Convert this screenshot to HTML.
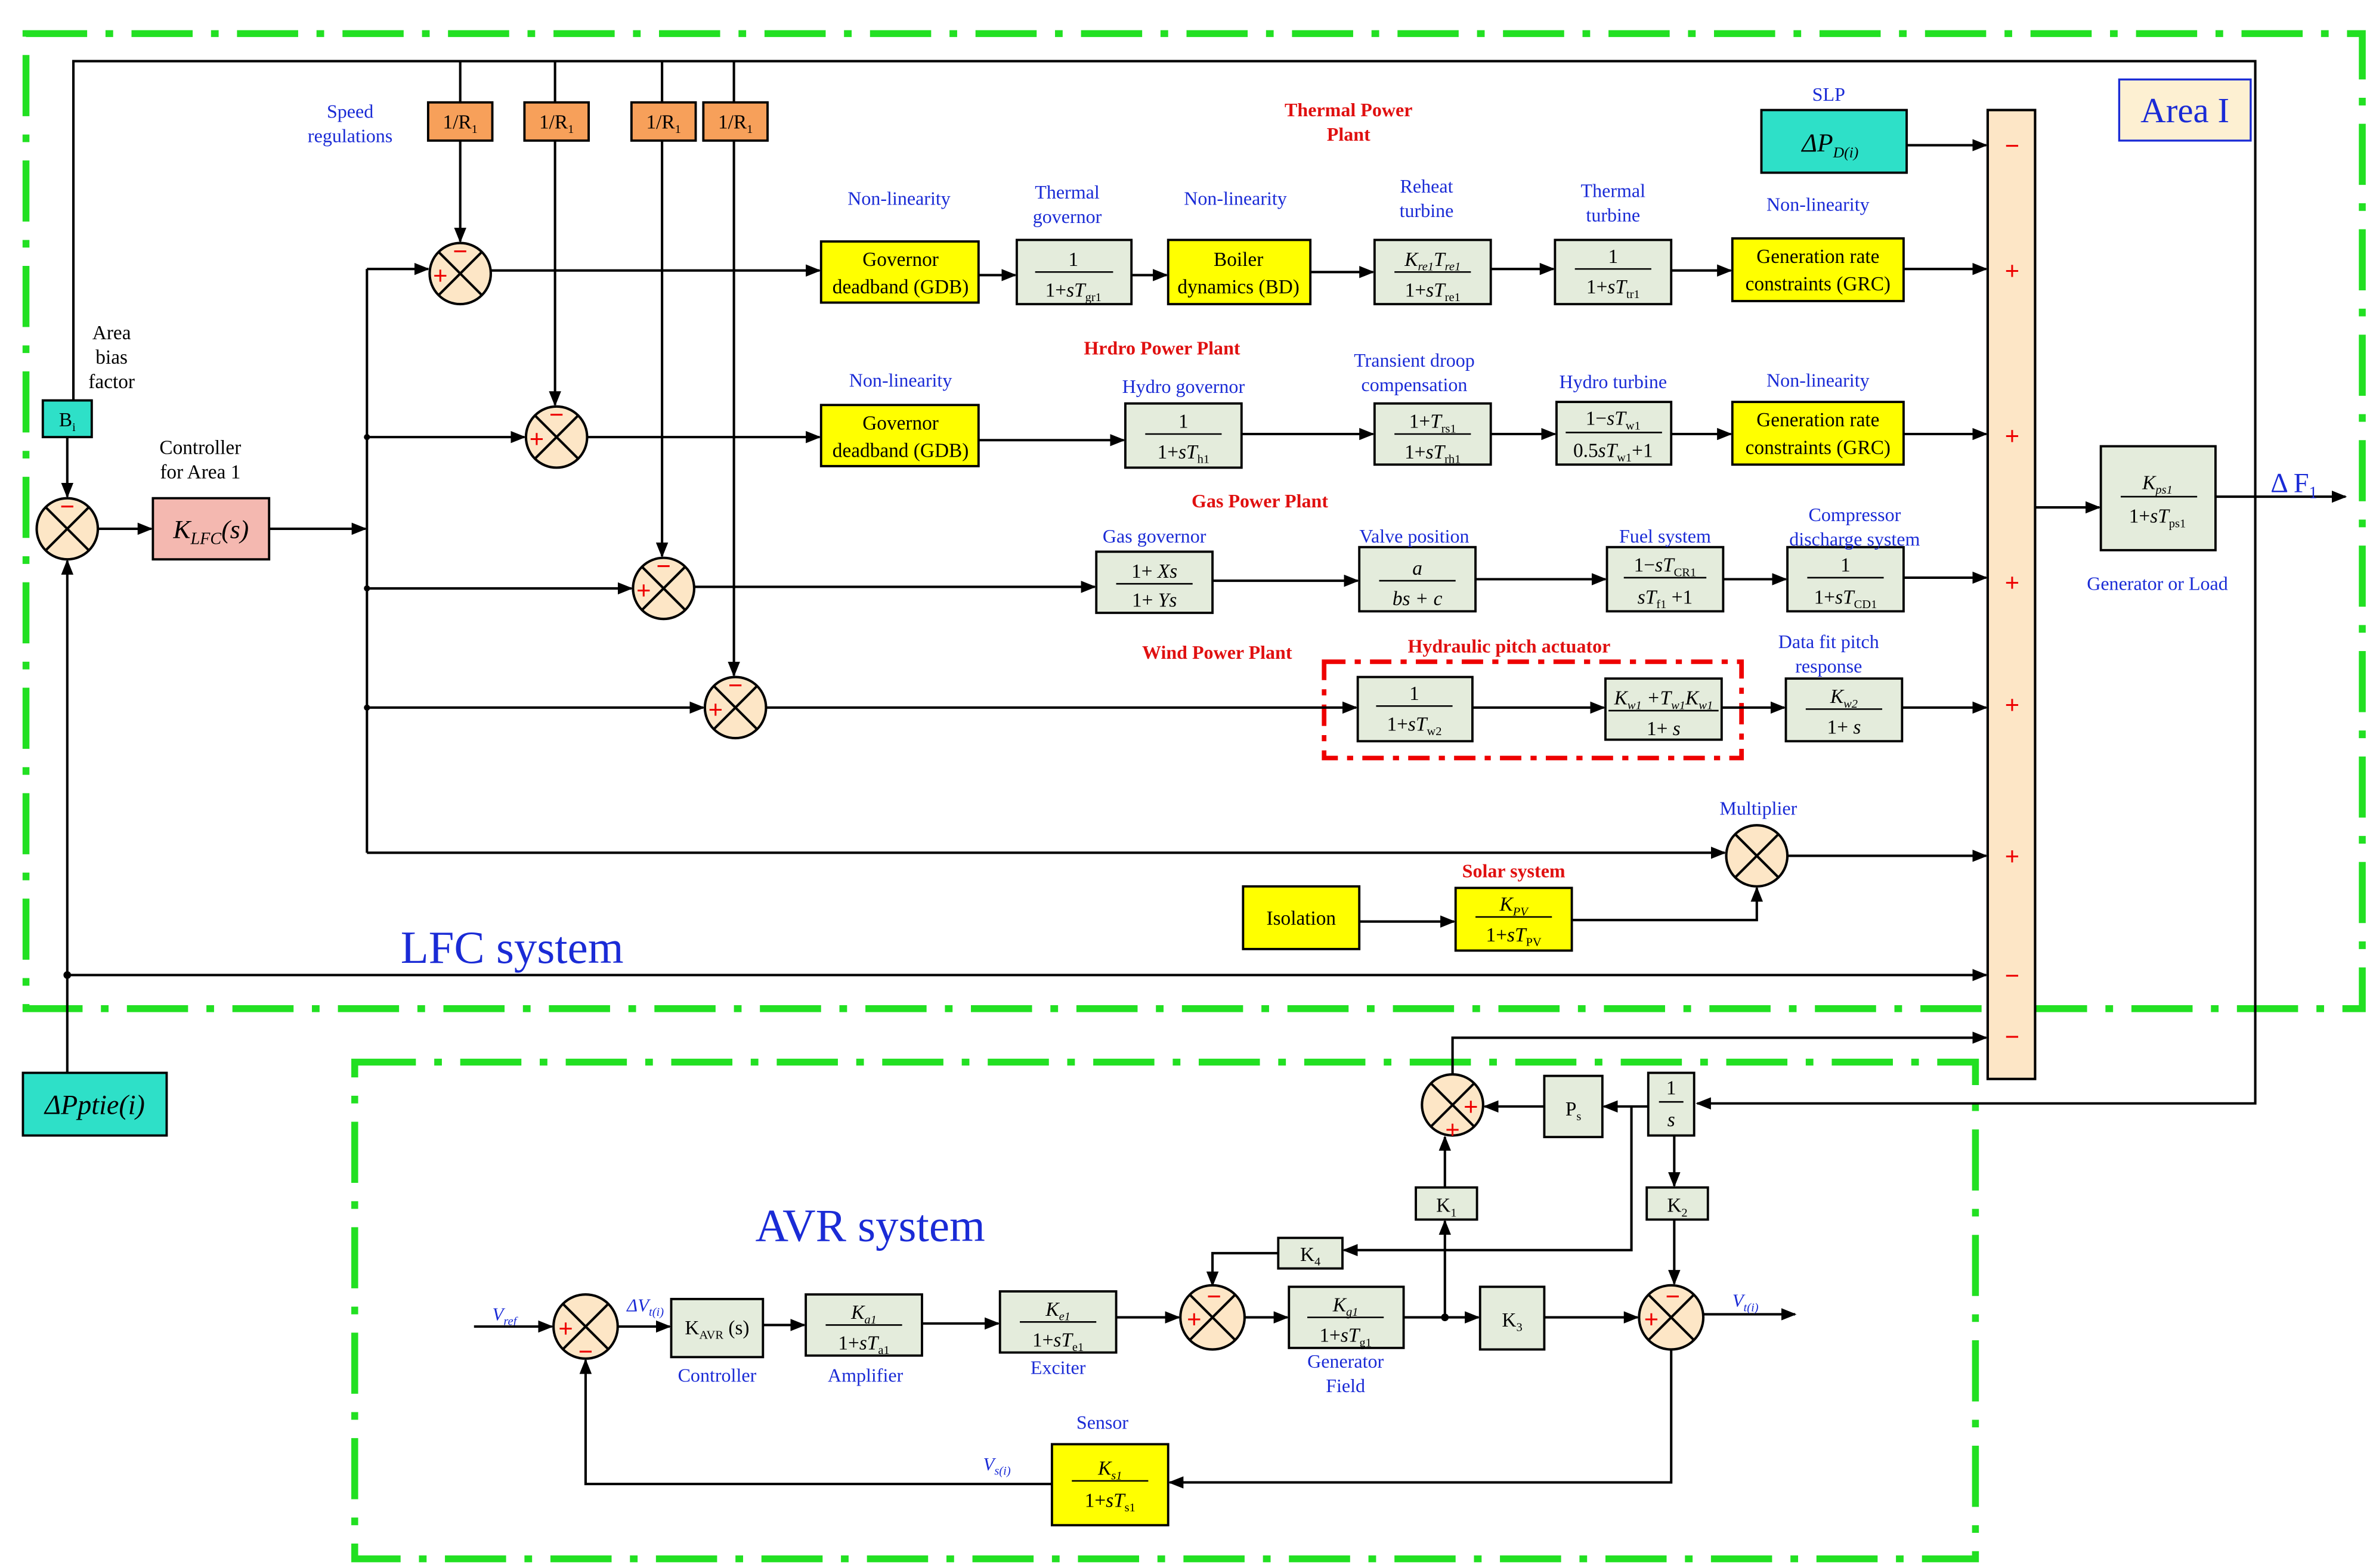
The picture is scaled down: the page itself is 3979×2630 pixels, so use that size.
<!DOCTYPE html>
<html><head><meta charset="utf-8"><style>
html,body{margin:0;padding:0;background:#fff}
svg{display:block}
text{font-family:"Liberation Serif",serif}
.b{fill:#1a2bd6;font-size:12.5px}
.r{fill:#e01010;font-size:12.5px;font-weight:bold}
.k{fill:#000;font-size:13px}
.bx{fill:#e4ecdc;stroke:#000;stroke-width:1.5}
.y{fill:#ffff00;stroke:#000;stroke-width:1.5}
.o{fill:#f7a05a;stroke:#000;stroke-width:1.5}
.c{fill:#2ee0c8;stroke:#000;stroke-width:1.5}
.ln{fill:none;stroke:#000;stroke-width:1.6}
.g{fill:none;stroke:#22e022;stroke-width:4.5;stroke-dasharray:40 12 5 12}
.sum{fill:#fde6c6;stroke:#000;stroke-width:1.6}
.x{stroke:#000;stroke-width:1.6}
.s{fill:#e00;font-size:17px;font-weight:bold}
</style></head><body>
<svg width="3979" height="2630" viewBox="0 0 1552 1026" preserveAspectRatio="none" xmlns="http://www.w3.org/2000/svg">
<defs><marker id="a" markerWidth="10" markerHeight="8" refX="9" refY="4" orient="auto" markerUnits="userSpaceOnUse"><path d="M0,0 L10,4 L0,8 Z" fill="#000"/></marker></defs>
<rect x="17" y="22" width="1528" height="638" class="g"/>
<rect x="232" y="695" width="1060" height="325" class="g"/>

<path class="ln" d="M48,262 V40 H1475 V722 H1110" marker-end="url(#a)"/>
<g class="ln">
<path d="M301,40 V67 M363,40 V67 M433,40 V67 M480,40 V67"/>
</g>
<path class="ln" d="M301,92 V158" marker-end="url(#a)"/>
<path class="ln" d="M363,92 V265" marker-end="url(#a)"/>
<path class="ln" d="M433,92 V364" marker-end="url(#a)"/>
<path class="ln" d="M480,92 V442" marker-end="url(#a)"/>
<g font-size="12">
<rect x="280" y="67" width="42" height="25" class="o"/><text x="301" y="84" text-anchor="middle" class="k">1/R<tspan font-size="8" dy="3">1</tspan></text>
<rect x="343" y="67" width="42" height="25" class="o"/><text x="364" y="84" text-anchor="middle" class="k">1/R<tspan font-size="8" dy="3">1</tspan></text>
<rect x="413" y="67" width="42" height="25" class="o"/><text x="434" y="84" text-anchor="middle" class="k">1/R<tspan font-size="8" dy="3">1</tspan></text>
<rect x="460" y="67" width="42" height="25" class="o"/><text x="481" y="84" text-anchor="middle" class="k">1/R<tspan font-size="8" dy="3">1</tspan></text>
</g>
<text x="229" y="77" text-anchor="middle" class="b">Speed</text>
<text x="229" y="93" text-anchor="middle" class="b">regulations</text>

<rect x="28" y="262" width="32" height="24" class="c"/><text x="44" y="279" text-anchor="middle" class="k">B<tspan font-size="8" dy="3">i</tspan></text>
<text x="73" y="222" text-anchor="middle" class="k" font-size="12.5">Area</text>
<text x="73" y="238" text-anchor="middle" class="k" font-size="12.5">bias</text>
<text x="73" y="254" text-anchor="middle" class="k" font-size="12.5">factor</text>
<path class="ln" d="M44,286 V325" marker-end="url(#a)"/>
<circle cx="44" cy="346" r="20" class="sum"/><path class="x" d="M30,332 L58,360 M58,332 L30,360"/>
<text x="44" y="337" text-anchor="middle" class="s">−</text>
<path class="ln" d="M64,346 H99" marker-end="url(#a)"/>
<rect x="100" y="326" width="76" height="40" fill="#f4b8b0" stroke="#000" stroke-width="1.5"/>
<text x="138" y="352" text-anchor="middle" font-size="17" font-style="italic">K<tspan font-size="11" dy="4">LFC</tspan><tspan dy="-4">(s)</tspan></text>
<text x="131" y="297" text-anchor="middle" class="k" font-size="12.5">Controller</text>
<text x="131" y="313" text-anchor="middle" class="k" font-size="12.5">for Area 1</text>
<path class="ln" d="M176,346 H239" marker-end="url(#a)"/>
<path class="ln" d="M240,176 V558"/>
<path class="ln" d="M240,176 H280" marker-end="url(#a)"/>
<path class="ln" d="M240,286 H343" marker-end="url(#a)"/>
<path class="ln" d="M240,385 H413" marker-end="url(#a)"/>
<path class="ln" d="M240,463 H460" marker-end="url(#a)"/>
<path class="ln" d="M240,558 H1128" marker-end="url(#a)"/>
<g fill="#000"><circle cx="240" cy="286" r="2"/><circle cx="240" cy="385" r="2"/><circle cx="240" cy="463" r="2"/><circle cx="44" cy="638" r="2.5"/></g>

<rect x="15" y="702" width="94" height="41" class="c"/>
<text x="62" y="729" text-anchor="middle" font-size="18" font-style="italic">ΔPptie(i)</text>
<path class="ln" d="M44,702 V367" marker-end="url(#a)"/>
<path class="ln" d="M44,638 H1299" marker-end="url(#a)"/>
<text x="262" y="630" fill="#1a2bd6" font-size="30">LFC system</text>

<g>
<circle cx="301" cy="179" r="20" class="sum"/><path class="x" d="M287,165 L315,193 M315,165 L287,193"/>
<text x="301" y="170" text-anchor="middle" class="s">−</text><text x="288" y="186" text-anchor="middle" class="s">+</text>
<circle cx="364" cy="286" r="20" class="sum"/><path class="x" d="M350,272 L378,300 M378,272 L350,300"/>
<text x="364" y="277" text-anchor="middle" class="s">−</text><text x="351" y="293" text-anchor="middle" class="s">+</text>
<circle cx="434" cy="385" r="20" class="sum"/><path class="x" d="M420,371 L448,399 M448,371 L420,399"/>
<text x="434" y="376" text-anchor="middle" class="s">−</text><text x="421" y="392" text-anchor="middle" class="s">+</text>
<circle cx="481" cy="463" r="20" class="sum"/><path class="x" d="M467,449 L495,477 M495,449 L467,477"/>
<text x="481" y="454" text-anchor="middle" class="s">−</text><text x="468" y="470" text-anchor="middle" class="s">+</text>
</g>

<text x="882" y="76" text-anchor="middle" class="r">Thermal Power</text>
<text x="882" y="92" text-anchor="middle" class="r">Plant</text>
<path class="ln" d="M321,177 H536" marker-end="url(#a)"/>
<rect x="537" y="158" width="103" height="40" class="y"/><text x="589" y="174" text-anchor="middle" class="k" font-size="12.5">Governor</text><text x="589" y="192" text-anchor="middle" class="k" font-size="12.5">deadband (GDB)</text>
<text x="588" y="134" text-anchor="middle" class="b">Non-linearity</text>
<path class="ln" d="M640,180 H664" marker-end="url(#a)"/>
<rect x="665" y="157" width="75" height="42" class="bx"/><text x="702" y="174" text-anchor="middle" class="k">1</text><line x1="677" y1="178" x2="728" y2="178" stroke="#000"/><text x="702" y="194" text-anchor="middle" class="k">1+<tspan font-style="italic">sT</tspan><tspan font-size="8" dy="3">gr1</tspan></text>
<text x="698" y="130" text-anchor="middle" class="b">Thermal</text><text x="698" y="146" text-anchor="middle" class="b">governor</text>
<path class="ln" d="M740,180 H763" marker-end="url(#a)"/>
<rect x="764" y="157" width="93" height="42" class="y"/><text x="810" y="174" text-anchor="middle" class="k" font-size="12.5">Boiler</text><text x="810" y="192" text-anchor="middle" class="k" font-size="12.5">dynamics (BD)</text>
<text x="808" y="134" text-anchor="middle" class="b">Non-linearity</text>
<path class="ln" d="M857,178 H898" marker-end="url(#a)"/>
<rect x="899" y="157" width="76" height="42" class="bx"/><text x="937" y="174" text-anchor="middle" class="k" font-style="italic">K<tspan font-size="8" dy="3">re1</tspan><tspan dy="-3">T</tspan><tspan font-size="8" dy="3">re1</tspan></text><line x1="912" y1="178" x2="962" y2="178" stroke="#000"/><text x="937" y="194" text-anchor="middle" class="k">1+<tspan font-style="italic">sT</tspan><tspan font-size="8" dy="3">re1</tspan></text>
<text x="933" y="126" text-anchor="middle" class="b">Reheat</text><text x="933" y="142" text-anchor="middle" class="b">turbine</text>
<path class="ln" d="M975,176 H1016" marker-end="url(#a)"/>
<rect x="1017" y="157" width="76" height="42" class="bx"/><text x="1055" y="172" text-anchor="middle" class="k">1</text><line x1="1030" y1="176" x2="1080" y2="176" stroke="#000"/><text x="1055" y="192" text-anchor="middle" class="k">1+<tspan font-style="italic">sT</tspan><tspan font-size="8" dy="3">tr1</tspan></text>
<text x="1055" y="129" text-anchor="middle" class="b">Thermal</text><text x="1055" y="145" text-anchor="middle" class="b">turbine</text>
<path class="ln" d="M1093,177 H1132" marker-end="url(#a)"/>
<rect x="1133" y="156" width="112" height="41" class="y"/><text x="1189" y="172" text-anchor="middle" class="k" font-size="12.5">Generation rate</text><text x="1189" y="190" text-anchor="middle" class="k" font-size="12.5">constraints (GRC)</text>
<text x="1189" y="138" text-anchor="middle" class="b">Non-linearity</text>
<path class="ln" d="M1245,176 H1299" marker-end="url(#a)"/>

<text x="760" y="232" text-anchor="middle" class="r">Hrdro Power Plant</text>
<path class="ln" d="M384,286 H536" marker-end="url(#a)"/>
<rect x="537" y="265" width="103" height="40" class="y"/><text x="589" y="281" text-anchor="middle" class="k" font-size="12.5">Governor</text><text x="589" y="299" text-anchor="middle" class="k" font-size="12.5">deadband (GDB)</text>
<text x="589" y="253" text-anchor="middle" class="b">Non-linearity</text>
<path class="ln" d="M640,288 H735" marker-end="url(#a)"/>
<rect x="736" y="264" width="76" height="42" class="bx"/><text x="774" y="280" text-anchor="middle" class="k">1</text><line x1="749" y1="284" x2="799" y2="284" stroke="#000"/><text x="774" y="300" text-anchor="middle" class="k">1+<tspan font-style="italic">sT</tspan><tspan font-size="8" dy="3">h1</tspan></text>
<text x="774" y="257" text-anchor="middle" class="b">Hydro governor</text>
<path class="ln" d="M812,284 H898" marker-end="url(#a)"/>
<rect x="899" y="264" width="76" height="40" class="bx"/><text x="937" y="280" text-anchor="middle" class="k">1+<tspan font-style="italic">T</tspan><tspan font-size="8" dy="3">rs1</tspan></text><line x1="912" y1="284" x2="962" y2="284" stroke="#000"/><text x="937" y="300" text-anchor="middle" class="k">1+<tspan font-style="italic">sT</tspan><tspan font-size="8" dy="3">rh1</tspan></text>
<text x="925" y="240" text-anchor="middle" class="b">Transient droop</text><text x="925" y="256" text-anchor="middle" class="b">compensation</text>
<path class="ln" d="M975,284 H1017" marker-end="url(#a)"/>
<rect x="1018" y="263" width="75" height="41" class="bx"/><text x="1055" y="278" text-anchor="middle" class="k">1−<tspan font-style="italic">sT</tspan><tspan font-size="8" dy="3">w1</tspan></text><line x1="1024" y1="283" x2="1087" y2="283" stroke="#000"/><text x="1055" y="299" text-anchor="middle" class="k">0.5<tspan font-style="italic">sT</tspan><tspan font-size="8" dy="3">w1</tspan><tspan dy="-3">+1</tspan></text>
<text x="1055" y="254" text-anchor="middle" class="b">Hydro turbine</text>
<path class="ln" d="M1093,284 H1132" marker-end="url(#a)"/>
<rect x="1133" y="263" width="112" height="41" class="y"/><text x="1189" y="279" text-anchor="middle" class="k" font-size="12.5">Generation rate</text><text x="1189" y="297" text-anchor="middle" class="k" font-size="12.5">constraints (GRC)</text>
<text x="1189" y="253" text-anchor="middle" class="b">Non-linearity</text>
<path class="ln" d="M1245,284 H1299" marker-end="url(#a)"/>

<text x="824" y="332" text-anchor="middle" class="r">Gas Power Plant</text>
<path class="ln" d="M454,384 H716" marker-end="url(#a)"/>
<rect x="717" y="361" width="76" height="40" class="bx"/><text x="755" y="378" text-anchor="middle" class="k">1+ <tspan font-style="italic">Xs</tspan></text><line x1="730" y1="382" x2="780" y2="382" stroke="#000"/><text x="755" y="397" text-anchor="middle" class="k">1+ <tspan font-style="italic">Ys</tspan></text>
<text x="755" y="355" text-anchor="middle" class="b">Gas governor</text>
<path class="ln" d="M793,380 H888" marker-end="url(#a)"/>
<rect x="889" y="358" width="76" height="42" class="bx"/><text x="927" y="376" text-anchor="middle" class="k" font-style="italic">a</text><line x1="902" y1="380" x2="952" y2="380" stroke="#000"/><text x="927" y="396" text-anchor="middle" class="k" font-style="italic">bs + c</text>
<text x="925" y="355" text-anchor="middle" class="b">Valve position</text>
<path class="ln" d="M965,379 H1050" marker-end="url(#a)"/>
<rect x="1051" y="358" width="76" height="42" class="bx"/><text x="1089" y="374" text-anchor="middle" class="k">1−<tspan font-style="italic">sT</tspan><tspan font-size="8" dy="3">CR1</tspan></text><line x1="1062" y1="378" x2="1116" y2="378" stroke="#000"/><text x="1089" y="395" text-anchor="middle" class="k"><tspan font-style="italic">sT</tspan><tspan font-size="8" dy="3">f1</tspan><tspan dy="-3"> +1</tspan></text>
<text x="1089" y="355" text-anchor="middle" class="b">Fuel system</text>
<path class="ln" d="M1127,379 H1168" marker-end="url(#a)"/>
<rect x="1169" y="358" width="76" height="42" class="bx"/><text x="1207" y="374" text-anchor="middle" class="k">1</text><line x1="1182" y1="378" x2="1232" y2="378" stroke="#000"/><text x="1207" y="395" text-anchor="middle" class="k">1+<tspan font-style="italic">sT</tspan><tspan font-size="8" dy="3">CD1</tspan></text>
<text x="1213" y="341" text-anchor="middle" class="b">Compressor</text><text x="1213" y="357" text-anchor="middle" class="b">discharge system</text>
<path class="ln" d="M1245,378 H1299" marker-end="url(#a)"/>

<text x="796" y="431" text-anchor="middle" class="r">Wind Power Plant</text>
<text x="987" y="427" text-anchor="middle" class="r">Hydraulic pitch actuator</text>
<rect x="866" y="433" width="273" height="63" fill="none" stroke="#e00" stroke-width="3" stroke-dasharray="14 6 4 6"/>
<path class="ln" d="M501,463 H887" marker-end="url(#a)"/>
<rect x="888" y="443" width="75" height="42" class="bx"/><text x="925" y="458" text-anchor="middle" class="k">1</text><line x1="900" y1="462" x2="950" y2="462" stroke="#000"/><text x="925" y="478" text-anchor="middle" class="k">1+<tspan font-style="italic">sT</tspan><tspan font-size="8" dy="3">w2</tspan></text>
<path class="ln" d="M963,463 H1049" marker-end="url(#a)"/>
<rect x="1050" y="444" width="76" height="40" class="bx"/><text x="1088" y="461" text-anchor="middle" class="k" font-style="italic">K<tspan font-size="8" dy="3">w1</tspan><tspan dy="-3"> +T</tspan><tspan font-size="8" dy="3">w1</tspan><tspan dy="-3">K</tspan><tspan font-size="8" dy="3">w1</tspan></text><line x1="1052" y1="465" x2="1124" y2="465" stroke="#000"/><text x="1088" y="481" text-anchor="middle" class="k">1+ <tspan font-style="italic">s</tspan></text>
<path class="ln" d="M1126,463 H1167" marker-end="url(#a)"/>
<rect x="1168" y="444" width="76" height="41" class="bx"/><text x="1206" y="460" text-anchor="middle" class="k" font-style="italic">K<tspan font-size="8" dy="3">w2</tspan></text><line x1="1181" y1="464" x2="1231" y2="464" stroke="#000"/><text x="1206" y="480" text-anchor="middle" class="k">1+ <tspan font-style="italic">s</tspan></text>
<text x="1196" y="424" text-anchor="middle" class="b">Data fit pitch</text><text x="1196" y="440" text-anchor="middle" class="b">response</text>
<path class="ln" d="M1244,463 H1299" marker-end="url(#a)"/>

<circle cx="1149" cy="560" r="20" class="sum"/><path class="x" d="M1135,546 L1163,574 M1163,546 L1135,574"/>
<text x="1150" y="533" text-anchor="middle" class="b">Multiplier</text>
<path class="ln" d="M1169,560 H1299" marker-end="url(#a)"/>
<rect x="813" y="580" width="76" height="41" class="y"/><text x="851" y="605" text-anchor="middle" class="k" font-size="12.5">Isolation</text>
<path class="ln" d="M889,603 H951" marker-end="url(#a)"/>
<rect x="952" y="581" width="76" height="41" class="y"/><text x="990" y="596" text-anchor="middle" class="k" font-style="italic">K<tspan font-size="8" dy="3">PV</tspan></text><line x1="965" y1="600" x2="1015" y2="600" stroke="#000"/><text x="990" y="616" text-anchor="middle" class="k">1+<tspan font-style="italic">sT</tspan><tspan font-size="8" dy="3">PV</tspan></text>
<text x="990" y="574" text-anchor="middle" class="r">Solar system</text>
<path class="ln" d="M1028,602 H1149 V581" marker-end="url(#a)"/>

<rect x="1152" y="72" width="95" height="41" class="c"/><text x="1197" y="99" text-anchor="middle" font-size="17" font-style="italic">ΔP<tspan font-size="10" dy="4">D(i)</tspan></text>
<text x="1196" y="66" text-anchor="middle" class="b">SLP</text>
<path class="ln" d="M1247,95 H1299" marker-end="url(#a)"/>
<rect x="1300" y="72" width="31" height="634" fill="#fde6c6" stroke="#000" stroke-width="1.6"/>
<g text-anchor="middle">
<text x="1316" y="101" class="s">−</text><text x="1316" y="183" class="s">+</text><text x="1316" y="291" class="s">+</text><text x="1316" y="387" class="s">+</text><text x="1316" y="467" class="s">+</text><text x="1316" y="566" class="s">+</text><text x="1316" y="644" class="s">−</text><text x="1316" y="684" class="s">−</text>
</g>
<rect x="1386" y="52" width="86" height="40" fill="#fdf0d2" stroke="#1a2bd6" stroke-width="1.3"/>
<text x="1429" y="80" text-anchor="middle" fill="#1a2bd6" font-size="23">Area I</text>
<path class="ln" d="M1331,332 H1373" marker-end="url(#a)"/>
<rect x="1374" y="292" width="75" height="68" class="bx"/><text x="1411" y="320" text-anchor="middle" class="k" font-style="italic">K<tspan font-size="8" dy="3">ps1</tspan></text><line x1="1387" y1="325" x2="1437" y2="325" stroke="#000"/><text x="1411" y="342" text-anchor="middle" class="k">1+<tspan font-style="italic">sT</tspan><tspan font-size="8" dy="3">ps1</tspan></text>
<text x="1411" y="386" text-anchor="middle" class="b">Generator or Load</text>
<path class="ln" d="M1449,325 H1534" marker-end="url(#a)"/>
<text x="1485" y="322" fill="#1a2bd6" font-size="18">Δ F<tspan font-size="11" dy="4">1</tspan></text>

<text x="494" y="812" fill="#1a2bd6" font-size="30">AVR system</text>
<path class="ln" d="M950,703 V679 H1299" marker-end="url(#a)"/>
<circle cx="950" cy="723" r="20" class="sum"/><path class="x" d="M936,709 L964,737 M964,709 L936,737"/>
<text x="962" y="730" text-anchor="middle" class="s">+</text><text x="950" y="745" text-anchor="middle" class="s">+</text>
<rect x="1010" y="704" width="38" height="40" class="bx"/><text x="1029" y="730" text-anchor="middle" class="k">P<tspan font-size="8" dy="3">s</tspan></text>
<rect x="1078" y="702" width="30" height="41" class="bx"/><text x="1093" y="716" text-anchor="middle" class="k">1</text><line x1="1085" y1="721" x2="1101" y2="721" stroke="#000"/><text x="1093" y="737" text-anchor="middle" class="k" font-style="italic">s</text>
<path class="ln" d="M1078,724 H1049" marker-end="url(#a)"/>
<path class="ln" d="M1010,724 H971" marker-end="url(#a)"/>
<path class="ln" d="M1095,743 V776" marker-end="url(#a)"/>
<path class="ln" d="M1067,724 V818 H879" marker-end="url(#a)"/>
<rect x="1077" y="777" width="40" height="21" class="bx"/><text x="1097" y="793" text-anchor="middle" class="k">K<tspan font-size="8" dy="3">2</tspan></text>
<rect x="836" y="810" width="42" height="20" class="bx"/><text x="857" y="825" text-anchor="middle" class="k">K<tspan font-size="8" dy="3">4</tspan></text>
<path class="ln" d="M836,820 H793 V841" marker-end="url(#a)"/>
<rect x="926" y="777" width="40" height="21" class="bx"/><text x="946" y="793" text-anchor="middle" class="k">K<tspan font-size="8" dy="3">1</tspan></text>
<path class="ln" d="M945,862 V799" marker-end="url(#a)"/>
<path class="ln" d="M945,777 V744" marker-end="url(#a)"/>
<circle cx="945" cy="862" r="2.5" fill="#000"/>

<text x="322" y="864" fill="#1a2bd6" font-size="12" font-style="italic">V<tspan font-size="8" dy="3">ref</tspan></text>
<path class="ln" d="M310,868 H361" marker-end="url(#a)"/>
<circle cx="383" cy="868" r="21" class="sum"/><path class="x" d="M368,853 L398,883 M398,853 L368,883"/>
<text x="370" y="875" text-anchor="middle" class="s">+</text><text x="383" y="890" text-anchor="middle" class="s">−</text>
<text x="410" y="858" fill="#1a2bd6" font-size="12" font-style="italic">ΔV<tspan font-size="8" dy="3">t(i)</tspan></text>
<path class="ln" d="M404,868 H438" marker-end="url(#a)"/>
<rect x="439" y="850" width="60" height="38" class="bx"/><text x="469" y="873" text-anchor="middle" class="k">K<tspan font-size="8" dy="3">AVR</tspan><tspan dy="-3"> (s)</tspan></text>
<text x="469" y="904" text-anchor="middle" class="b">Controller</text>
<path class="ln" d="M499,867 H526" marker-end="url(#a)"/>
<rect x="527" y="847" width="76" height="40" class="bx"/><text x="565" y="863" text-anchor="middle" class="k" font-style="italic">K<tspan font-size="8" dy="3">a1</tspan></text><line x1="540" y1="867" x2="590" y2="867" stroke="#000"/><text x="565" y="883" text-anchor="middle" class="k">1+<tspan font-style="italic">sT</tspan><tspan font-size="8" dy="3">a1</tspan></text>
<text x="566" y="904" text-anchor="middle" class="b">Amplifier</text>
<path class="ln" d="M603,866 H653" marker-end="url(#a)"/>
<rect x="654" y="845" width="76" height="40" class="bx"/><text x="692" y="861" text-anchor="middle" class="k" font-style="italic">K<tspan font-size="8" dy="3">e1</tspan></text><line x1="667" y1="865" x2="717" y2="865" stroke="#000"/><text x="692" y="881" text-anchor="middle" class="k">1+<tspan font-style="italic">sT</tspan><tspan font-size="8" dy="3">e1</tspan></text>
<text x="692" y="899" text-anchor="middle" class="b">Exciter</text>
<path class="ln" d="M730,862 H771" marker-end="url(#a)"/>
<circle cx="793" cy="862" r="21" class="sum"/><path class="x" d="M778,847 L808,877 M808,847 L778,877"/>
<text x="781" y="869" text-anchor="middle" class="s">+</text><text x="794" y="854" text-anchor="middle" class="s">−</text>
<path class="ln" d="M814,862 H842" marker-end="url(#a)"/>
<rect x="843" y="842" width="75" height="40" class="bx"/><text x="880" y="858" text-anchor="middle" class="k" font-style="italic">K<tspan font-size="8" dy="3">g1</tspan></text><line x1="855" y1="862" x2="905" y2="862" stroke="#000"/><text x="880" y="878" text-anchor="middle" class="k">1+<tspan font-style="italic">sT</tspan><tspan font-size="8" dy="3">g1</tspan></text>
<text x="880" y="895" text-anchor="middle" class="b">Generator</text><text x="880" y="911" text-anchor="middle" class="b">Field</text>
<path class="ln" d="M918,862 H967" marker-end="url(#a)"/>
<rect x="968" y="842" width="42" height="41" class="bx"/><text x="989" y="868" text-anchor="middle" class="k">K<tspan font-size="8" dy="3">3</tspan></text>
<path class="ln" d="M1010,862 H1071" marker-end="url(#a)"/>
<path class="ln" d="M1095,798 V840" marker-end="url(#a)"/>
<circle cx="1093" cy="862" r="21" class="sum"/><path class="x" d="M1078,847 L1108,877 M1108,847 L1078,877"/>
<text x="1080" y="869" text-anchor="middle" class="s">+</text><text x="1094" y="854" text-anchor="middle" class="s">−</text>
<path class="ln" d="M1114,860 H1174" marker-end="url(#a)"/>
<text x="1133" y="855" fill="#1a2bd6" font-size="12" font-style="italic">V<tspan font-size="8" dy="3">t(i)</tspan></text>
<path class="ln" d="M1093,883 V970 H765" marker-end="url(#a)"/>
<rect x="688" y="945" width="76" height="53" class="y"/><text x="726" y="965" text-anchor="middle" class="k" font-style="italic">K<tspan font-size="8" dy="3">s1</tspan></text><line x1="701" y1="969" x2="751" y2="969" stroke="#000"/><text x="726" y="986" text-anchor="middle" class="k">1+<tspan font-style="italic">sT</tspan><tspan font-size="8" dy="3">s1</tspan></text>
<text x="721" y="935" text-anchor="middle" class="b">Sensor</text>
<text x="643" y="962" fill="#1a2bd6" font-size="12" font-style="italic">V<tspan font-size="8" dy="3">s(i)</tspan></text>
<path class="ln" d="M688,971 H383 V890" marker-end="url(#a)"/>
</svg>
</body></html>
